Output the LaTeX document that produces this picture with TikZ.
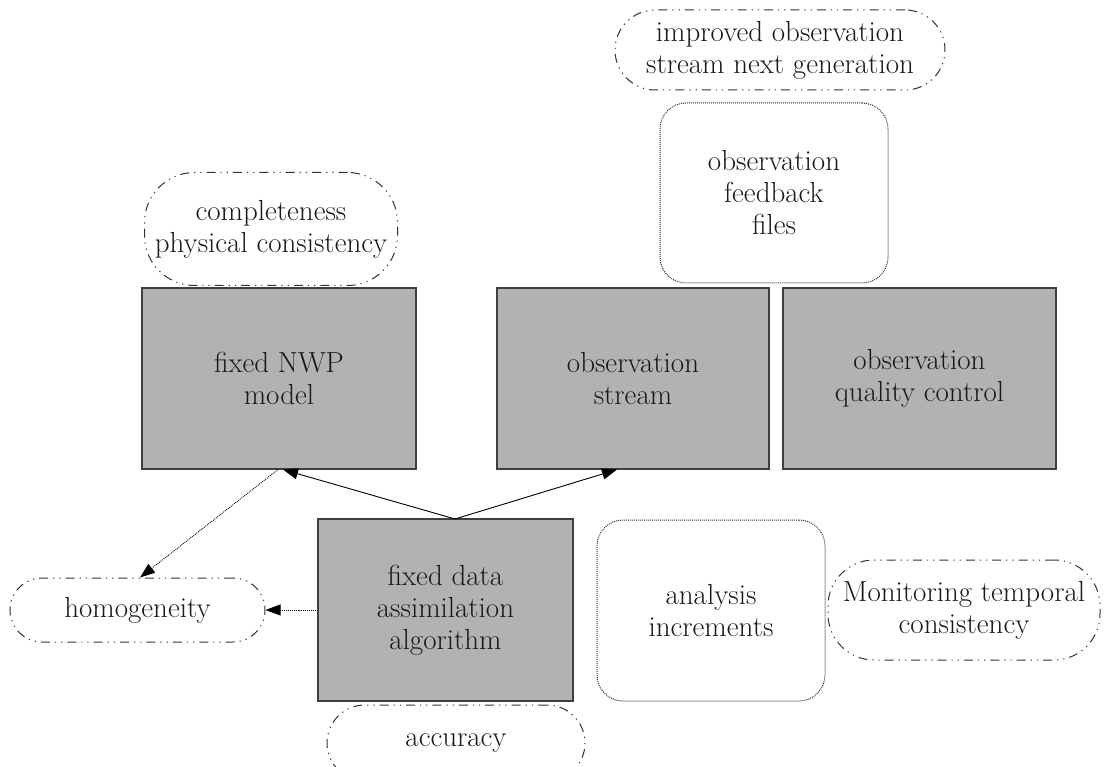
\documentclass[tikz,border=0pt]{standalone}
\usetikzlibrary{arrows.meta}
\definecolor{boxgray}{gray}{0.70}
\definecolor{edgegray}{gray}{0.25}
\tikzset{
  every node/.style={font=\fontsize{29}{32}\selectfont, align=center, inner sep=0pt, text=black!90},
  graybox/.style={draw=edgegray, line width=1.1pt, fill=boxgray, rectangle},
  dotbox/.style={draw=black!80, line width=1pt, densely dotted, rounded corners=26pt, rectangle},
  dashdotnode/.style={draw=black!80, line width=1pt, rounded corners=40pt, rectangle,
    dash pattern=on 9pt off 5pt on 1.2pt off 5pt on 1.2pt off 5pt},
  arr/.style={-{Triangle[length=15pt,width=11pt]}, line width=0.9pt, black},
  dotarr/.style={-{Triangle[length=15pt,width=11pt]}, line width=0.9pt, black, densely dotted},
}
\begin{document}
\begin{tikzpicture}[x=1pt,y=-1pt]
\useasboundingbox (0,0) rectangle (1109,767);
\node[dashdotnode, minimum width=330pt, minimum height=80pt] (improved) at (780,50) {improved observation\\stream next generation};
\node[dotbox, minimum width=228pt, minimum height=180pt] (feedback) at (774,193) {observation\\feedback\\files};
\node[dashdotnode, minimum width=253pt, minimum height=113pt, rounded corners=50pt] (complete) at (271,229) {completeness\\physical consistency};
\node[graybox, minimum width=274pt, minimum height=181pt] (nwp) at (279,378.5) {fixed NWP\\model};
\node[graybox, minimum width=272pt, minimum height=181pt] (stream) at (633,378.5) {observation\\stream};
\node[graybox, minimum width=273pt, minimum height=181pt] (qc) at (919.5,378.5) {observation\\quality control};
\node[graybox, minimum width=255pt, minimum height=182pt] (da) at (445.5,610) {fixed data\\assimilation\\algorithm};
\node[dotbox, minimum width=228pt, minimum height=181pt] (incr) at (711,610.5) {analysis\\increments};
\node[dashdotnode, minimum width=272pt, minimum height=100pt, rounded corners=46pt] (monitor) at (964,610) {Monitoring temporal\\consistency};
\node[dashdotnode, minimum width=255pt, minimum height=64pt, rounded corners=32pt] (homog) at (137.5,610) {homogeneity};
\node[dashdotnode, minimum width=258pt, minimum height=76pt, rounded corners=38pt] (acc) at (456,743) {accuracy};
\coordinate (daTop) at (455,519);
\draw[arr] (daTop) -- (nwp.south -| 283,0);
\draw[arr] (daTop) -- (stream.south -| 617,0);
\draw[dotarr] (nwp.south -| 278,0) -- (homog.north -| 140,0);
\draw[dotarr] (da.west) -- (homog.east);
\end{tikzpicture}
\end{document}
